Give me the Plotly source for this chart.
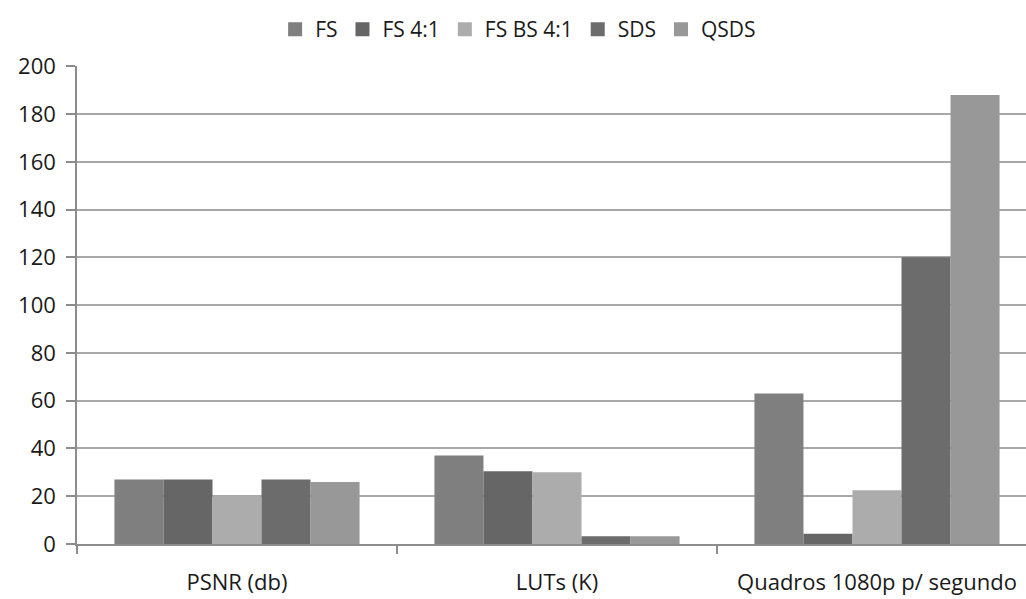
import plotly.graph_objects as go

# Categories on the x axis
categories = ["PSNR (db)", "LUTs (K)", "Quadros 1080p p/ segundo"]

# One list of values per design variant
fs = [27, 37, 63]
fs_4_1 = [27, 30.5, 4.3]
fs_bs_4_1 = [20, 30, 22.5]
sds = [27, 3.2, 120]
qsds = [26, 3.2, 188]

series = [
    ("FS", fs, "#7f7f7f"),
    ("FS 4:1", fs_4_1, "#666666"),
    ("FS BS 4:1", fs_bs_4_1, "#acacac"),
    ("SDS", sds, "#6c6c6c"),
    ("QSDS", qsds, "#989898"),
]

y_ticks = list(range(0, 201, 20))

font_family = "Open Sans"
text_color = "#1a1a1a"

fig = go.Figure()
for name, values, color in series:
    fig.add_trace(go.Bar(
        name=name,
        x=categories,
        y=values,
        marker=dict(color=color, line=dict(width=0)),
        showlegend=False,
        legendgroup=name,
    ))

# Legend entries with larger square swatches
for name, values, color in series:
    fig.add_trace(go.Scatter(
        name=name,
        x=[None],
        y=[None],
        mode="markers",
        marker=dict(symbol="square", size=14, color=color),
        legendgroup=name,
        showlegend=True,
        hoverinfo="skip",
    ))

fig.update_layout(
    width=1026,
    height=599,
    margin=dict(l=77, r=0, t=65, b=55),
    paper_bgcolor="white",
    plot_bgcolor="white",
    barmode="group",
    bargap=0.234,
    bargroupgap=0,
    font=dict(family=font_family, size=22, color=text_color),
    legend=dict(
        orientation="h",
        x=0.505,
        xanchor="center",
        xref="container",
        y=0.985,
        yanchor="top",
        yref="container",
        font=dict(family=font_family, size=21, color=text_color),
        itemclick=False,
        tracegroupgap=0,
    ),
    showlegend=True,
)

fig.update_xaxes(
    type="category",
    range=[-0.5, -0.5 + 949 / 320],
    showgrid=False,
    showline=True,
    linecolor="#8c8c8c",
    linewidth=1.5,
    ticks="outside",
    tickson="boundaries",
    ticklen=8,
    tickcolor="#8c8c8c",
    tickwidth=1.5,
    ticklabelstandoff=18,
    tickfont=dict(family=font_family, size=22, color=text_color),
)

fig.update_yaxes(
    range=[0, 200],
    tickvals=y_ticks,
    showgrid=True,
    gridcolor="#a8a8a8",
    gridwidth=1.5,
    showline=True,
    linecolor="#8c8c8c",
    linewidth=1.5,
    ticks="outside",
    ticklen=9,
    tickcolor="#8c8c8c",
    tickwidth=1.5,
    ticklabelstandoff=6,
    zeroline=False,
    tickfont=dict(family=font_family, size=22, color=text_color),
)

fig.write_html("out.html")
